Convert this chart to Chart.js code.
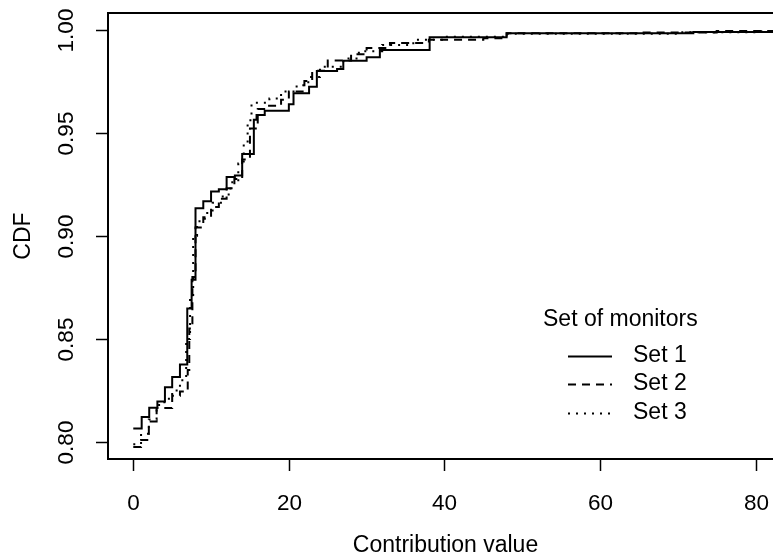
<!DOCTYPE html>
<html><head><meta charset="utf-8">
<script src="https://cdn.jsdelivr.net/npm/chart.js@4"></script>
<style>
html,body{margin:0;padding:0;background:#fff;overflow:hidden;width:773px;height:560px}
#wrap{position:relative;width:800px;height:560px}
</style>
</head><body><div id="wrap"><canvas id="c" width="800" height="560"></canvas></div>
<script>
// Step points (x where the CDF jumps, CDF value after the jump)
const set1X = [0, 1.08, 2.05, 3.1, 4.07, 5.0, 6.0, 6.94, 7.5, 8.0, 9.0, 10.0, 11.0, 12.0, 13.06, 14.0, 15.5, 15.85, 16.9, 20.0, 20.6, 22.6, 23.6, 26.2, 27.0, 30.0, 31.7, 38.1, 48.0, 72.0, 86.0];
const set1Y = [0.8066, 0.8121, 0.8167, 0.8197, 0.8266, 0.8315, 0.8376, 0.8647, 0.8787, 0.9133, 0.9168, 0.9215, 0.9226, 0.9285, 0.9292, 0.9396, 0.9562, 0.9585, 0.9606, 0.9638, 0.9691, 0.9723, 0.9799, 0.9809, 0.9849, 0.9865, 0.9901, 0.9962, 0.9982, 0.9988, 0.9990];
const set2X = [0, 1.0, 2.0, 3.0, 5.0, 6.0, 7.0, 7.2, 7.6, 8.0, 9.0, 10.0, 11.0, 12.0, 13.0, 14.0, 15.0, 16.0, 17.0, 19.0, 20.0, 22.0, 23.0, 25.0, 28.0, 30.0, 33.0, 38.0, 45.0, 48.0, 65.0, 75.0, 86.0];
const set2Y = [0.7976, 0.8010, 0.8100, 0.8165, 0.8225, 0.8245, 0.8350, 0.8550, 0.8800, 0.9040, 0.9090, 0.9140, 0.9180, 0.9230, 0.9275, 0.9370, 0.9520, 0.9615, 0.9630, 0.9660, 0.9700, 0.9750, 0.9800, 0.9850, 0.9880, 0.9910, 0.9935, 0.9950, 0.9958, 0.9982, 0.9986, 0.9993, 0.9995];
const set3X = [0, 1.0, 2.0, 3.0, 4.0, 5.0, 6.0, 6.8, 7.3, 7.7, 8.2, 9.2, 10.2, 11.5, 12.5, 13.5, 14.2, 14.7, 15.2, 17.5, 19.0, 21.0, 22.5, 24.0, 27.0, 29.0, 32.0, 36.0, 40.0, 48.0, 70.0, 80.0, 86.0];
const set3Y = [0.7990, 0.8040, 0.8110, 0.8180, 0.8210, 0.8250, 0.8300, 0.8500, 0.8700, 0.9000, 0.9070, 0.9110, 0.9160, 0.9200, 0.9260, 0.9350, 0.9450, 0.9560, 0.9645, 0.9665, 0.9700, 0.9730, 0.9770, 0.9820, 0.9860, 0.9895, 0.9925, 0.9950, 0.9965, 0.9980, 0.9987, 0.9992, 0.9994];
const seriesNames = ['Set 1', 'Set 2', 'Set 3'];
const xTicks = [0, 20, 40, 60, 80];
const xTickLabels = ['0', '20', '40', '60', '80'];
const yTicks = [0.80, 0.85, 0.90, 0.95, 1.00];
const yTickLabels = ['0.80', '0.85', '0.90', '0.95', '1.00'];
const xTitle = 'Contribution value';
const yTitle = 'CDF';
const legendTitle = 'Set of monitors';

const FONT = '"Liberation Sans", Arial, Helvetica, sans-serif';
const dashes = [[], [8, 6], [2, 6]];
const toPts = (xs, ys) => xs.map((x, i) => ({x: x, y: ys[i]}));

const decor = {
  id: 'decor',
  afterDraw(chart) {
    const ctx = chart.ctx, a = chart.chartArea;
    const sx = chart.scales.x, sy = chart.scales.y;
    ctx.save();
    ctx.strokeStyle = '#000';
    ctx.fillStyle = '#000';
    ctx.lineWidth = 2;
    ctx.setLineDash([]);
    ctx.strokeRect(a.left, a.top, a.right - a.left, a.bottom - a.top);
    ctx.lineWidth = 1.5;
    ctx.font = '22.5px ' + FONT;
    ctx.textAlign = 'center';
    ctx.textBaseline = 'middle';
    xTicks.forEach((v, i) => {
      const px = Math.round(sx.getPixelForValue(v)) + 0.5;
      ctx.beginPath(); ctx.moveTo(px, a.bottom); ctx.lineTo(px, a.bottom + 12); ctx.stroke();
      ctx.fillText(xTickLabels[i], px, 504);
    });
    yTicks.forEach((v, i) => {
      const py = Math.round(sy.getPixelForValue(v)) + 0.5;
      ctx.beginPath(); ctx.moveTo(a.left - 12, py); ctx.lineTo(a.left, py); ctx.stroke();
      ctx.save(); ctx.translate(67, py); ctx.rotate(-Math.PI / 2);
      ctx.fillText(yTickLabels[i], 0, 0); ctx.restore();
    });
    ctx.font = '23px ' + FONT;
    ctx.fillText(xTitle, (a.left + a.right) / 2 - 3, 546);
    ctx.save(); ctx.translate(24, (a.top + a.bottom) / 2); ctx.rotate(-Math.PI / 2);
    ctx.fillText(yTitle, 0, 0); ctx.restore();
    // legend
    ctx.textAlign = 'left';
    ctx.fillText(legendTitle, 543, 320);
    seriesNames.forEach((n, i) => {
      const y = 355.5 + i * 28.5;
      ctx.setLineDash(dashes[i]);
      ctx.lineWidth = 1.8;
      ctx.beginPath(); ctx.moveTo(568, Math.round(y) + 0.5); ctx.lineTo(612, Math.round(y) + 0.5); ctx.stroke();
      ctx.setLineDash([]);
      ctx.fillText(n, 633, y);
    });
    ctx.restore();
  }
};

new Chart(document.getElementById('c'), {
  type: 'line',
  data: {
    datasets: [
      {label: seriesNames[0], data: toPts(set1X, set1Y), borderColor: '#000', borderWidth: 2, borderDash: dashes[0], stepped: true, pointRadius: 0, fill: false},
      {label: seriesNames[1], data: toPts(set2X, set2Y), borderColor: '#000', borderWidth: 2, borderDash: dashes[1], stepped: true, pointRadius: 0, fill: false},
      {label: seriesNames[2], data: toPts(set3X, set3Y), borderColor: '#000', borderWidth: 2, borderDash: dashes[2], stepped: true, pointRadius: 0, fill: false}
    ]
  },
  options: {
    responsive: false, animation: false, devicePixelRatio: 1,
    layout: {padding: {left: 108, top: 13, right: 11, bottom: 101}},
    plugins: {legend: {display: false}, tooltip: {enabled: false}},
    scales: {
      x: {type: 'linear', min: -3.25, max: 84.3, display: false},
      y: {type: 'linear', min: 0.7918, max: 1.0080, display: false}
    }
  },
  plugins: [decor]
});
</script>
</body></html>
